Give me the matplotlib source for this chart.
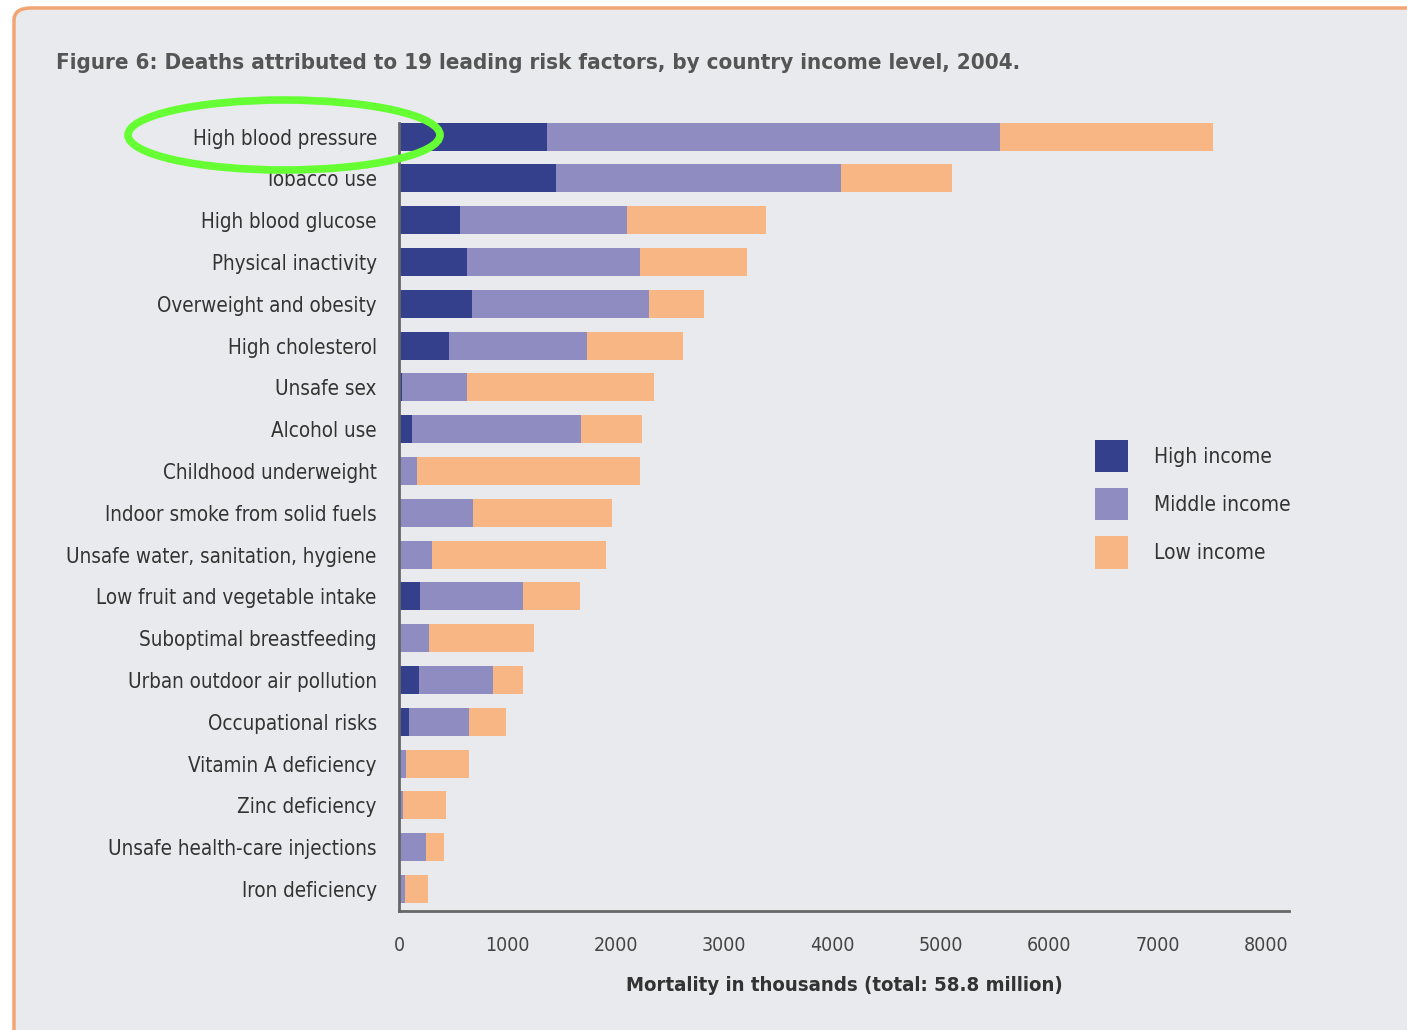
import matplotlib
matplotlib.use("Agg")
import matplotlib.pyplot as plt
from matplotlib.patches import FancyBboxPatch, Ellipse, Patch
import numpy as np

plt.rcParams['font.family'] = ['DejaVu Sans']
plt.rcParams['font.stretch'] = 'condensed'

risk_factors = [
    "High blood pressure", "Tobacco use", "High blood glucose", "Physical inactivity",
    "Overweight and obesity", "High cholesterol", "Unsafe sex", "Alcohol use",
    "Childhood underweight", "Indoor smoke from solid fuels",
    "Unsafe water, sanitation, hygiene", "Low fruit and vegetable intake",
    "Suboptimal breastfeeding", "Urban outdoor air pollution", "Occupational risks",
    "Vitamin A deficiency", "Zinc deficiency", "Unsafe health-care injections",
    "Iron deficiency",
]
# Deaths in thousands, by income group
high_income = [1361, 1450, 562, 624, 677, 460, 26, 117, 0, 0, 0, 197, 0, 181, 89, 0, 0, 0, 0]
middle_income = [4183, 2627, 1541, 1595, 1631, 1277, 598, 1559, 169, 683, 304, 947, 274, 686, 554, 67, 37, 246, 55]
low_income = [1965, 1026, 1282, 995, 508, 884, 1727, 569, 2051, 1279, 1603, 529, 971, 274, 344, 582, 394, 166, 215]

x_ticks = [0, 1000, 2000, 3000, 4000, 5000, 6000, 7000, 8000]
series_names = ["High income", "Middle income", "Low income"]
colors = ["#34408c", "#8e8cc0", "#f9b685"]

W, H = 1407, 1030
fig = plt.figure(figsize=(W / 100, H / 100), dpi=100, facecolor="white")

# Rounded panel with orange frame
panel = FancyBboxPatch((14 / W, -0.05), 1.2, 1 - 8 / H + 0.05,
                       boxstyle="round,pad=0,rounding_size=0.012",
                       transform=fig.transFigure, facecolor="#e8eaed",
                       edgecolor="#f2a572", linewidth=2.5, zorder=-5)
fig.patches.append(panel)

ax = fig.add_axes([399 / W, 1 - 911 / H, (1289 - 399) / W, (911 - 123) / H])
ax.set_facecolor("none")
ax.set_zorder(2)

y = np.arange(len(risk_factors))
hi = np.array(high_income)
mid = np.array(middle_income)
lo = np.array(low_income)
bh = 0.67
ax.barh(y, hi, height=bh, color=colors[0], label=series_names[0])
ax.barh(y, mid, left=hi, height=bh, color=colors[1], label=series_names[1])
ax.barh(y, lo, left=hi + mid, height=bh, color=colors[2], label=series_names[2])

ax.set_xlim(0, 8210)
ax.set_ylim(18.526, -0.326)
ax.set_yticks(y)
ax.set_yticklabels(risk_factors, fontsize=14.8, color="#333333")
ax.set_xticks(x_ticks)
ax.set_xticklabels([str(t) for t in x_ticks], fontsize=14, color="#444444")
ax.tick_params(axis="both", length=0)
ax.tick_params(axis="y", pad=16)
ax.tick_params(axis="x", pad=18)

for side in ["top", "right"]:
    ax.spines[side].set_visible(False)
for side in ["left", "bottom"]:
    ax.spines[side].set_color("#666666")
    ax.spines[side].set_linewidth(2)

ax.set_xlabel("Mortality in thousands (total: 58.8 million)", fontsize=14.6,
              fontweight="bold", color="#333333", labelpad=15)

handles = [Patch(facecolor=c, edgecolor="none") for c in colors]
leg = fig.legend(handles, series_names, loc="upper left",
                 bbox_to_anchor=(1095 / W, 1 - 440 / H), frameon=False,
                 fontsize=15, handlelength=1.6, handleheight=2.0,
                 labelspacing=0.77, handletextpad=1.25, borderpad=0,
                 borderaxespad=0, labelcolor="#333333")
leg.set_zorder(3)

fig.text(56 / W, 1 - 63 / H,
         "Figure 6: Deaths attributed to 19 leading risk factors, by country income level, 2004.",
         fontsize=16, fontweight="bold", color="#555555", va="center", ha="left")

# Highlight ring around the top label
ring = Ellipse((284 / W, 1 - 135 / H), 312 / W, 70 / H, transform=fig.transFigure,
               facecolor="none", edgecolor="#66ff33", linewidth=5.5, zorder=10)
fig.patches.append(ring)

fig.savefig("out.png", dpi=100, facecolor="white")
